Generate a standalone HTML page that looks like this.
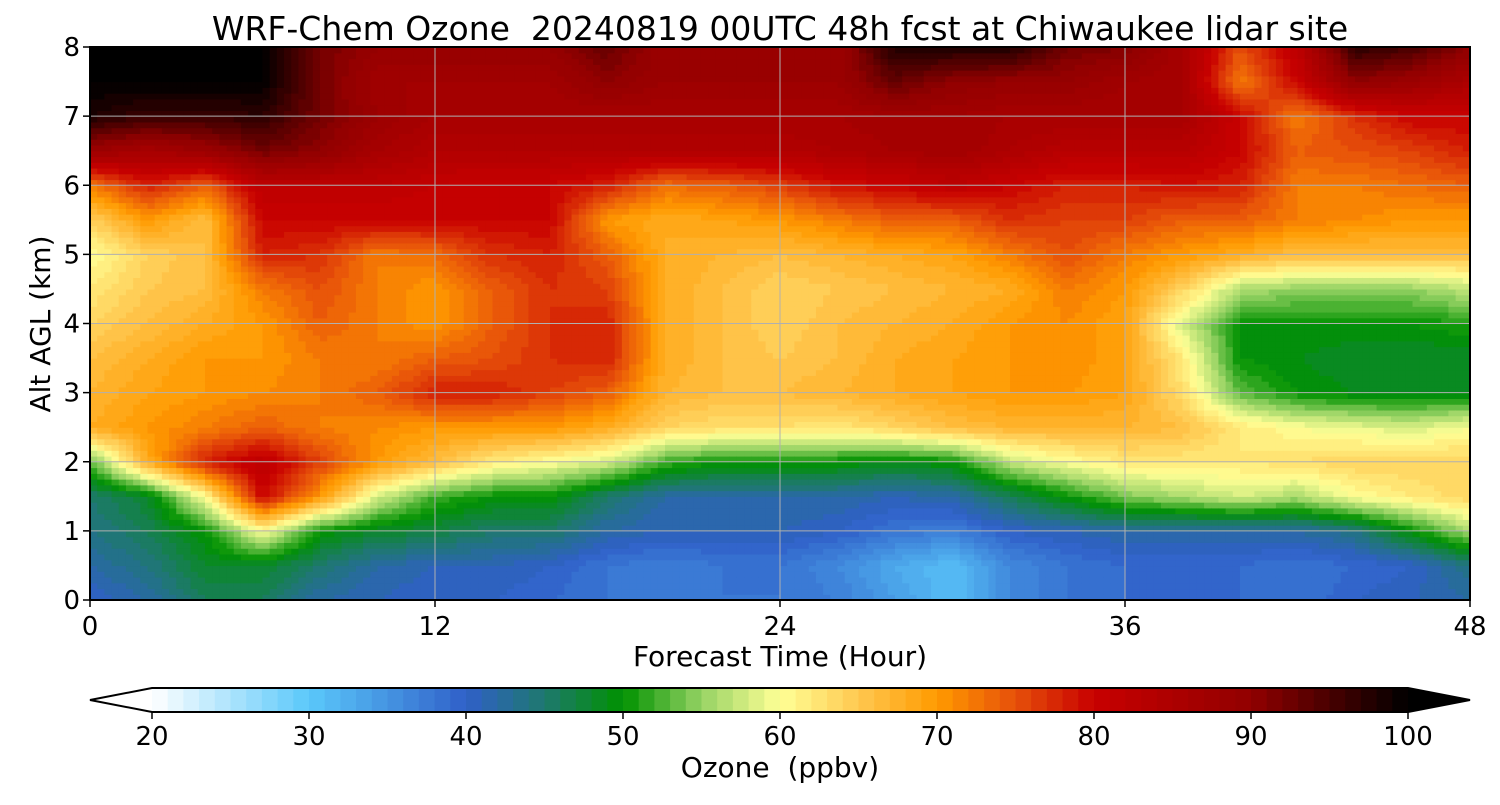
<!DOCTYPE html>
<html><head><meta charset="utf-8">
<style>
body{margin:0;background:#fff;}
svg text{font-family:"DejaVu Sans","Liberation Sans",sans-serif;fill:#000;white-space:pre;}
</style></head>
<body>
<svg id="chart" width="1500" height="800" xmlns="http://www.w3.org/2000/svg">
<text x="780" y="40" font-size="33" text-anchor="middle" xml:space="preserve">WRF-Chem Ozone  20240819 00UTC 48h fcst at Chiwaukee lidar site</text>
<g id="plot"></g>
<g id="grid"></g>
<rect x="90" y="47" width="1380" height="553" fill="none" stroke="#000" stroke-width="2"/>
<g id="axes"></g>
<text transform="translate(50,324) rotate(-90)" font-size="28" text-anchor="middle">Alt AGL (km)</text>
<text x="780" y="666" font-size="28" text-anchor="middle">Forecast Time (Hour)</text>
<g id="cbar"></g>
<text x="780" y="777" font-size="28" text-anchor="middle" xml:space="preserve">Ozone  (ppbv)</text>
</svg>
<script>
const hours=[0,2,4,6,8,10,12,14,16,18,20,22,24,26,28,30,32,34,36,38,40,42,44,46,48];
const alts=[0,0.5,1,1.5,2,2.5,3,3.5,4,4.5,5,5.5,6,6.5,7,7.5,8];
const z0  =[40,42,46,46,42,41,40,40,39,38,37,38,38,37,34,31,36,38,39,39,39,38,40,41,42];
const z05 =[42,44,48,48,45,42,41,41,40,38,37,38,38,36,33,31,36,38,39,39,39,38,39,40,44];
const z10 =[44,46,50,60,50,48,47,45,45,42,41,41,41,40,38,37,40,41,42,42,42,42,44,50,56];
const z15 =[45,48,60,80,70,58,52,50,50,45,42,42,42,42,41,42,46,50,54,56,58,56,60,62,64];
const z20 =[53,68,78,82,76,70,66,62,60,58,52,50,50,50,49,50,57,60,62,62,62,63,64,64,64];
const z25 =[68,70,72,74,72,71,70,70,70,68,64,63,63,62,64,66,67,67,67,66,62,60,59,58,60];
const z30 =[67,69,70,71,72,74,78,78,76,74,67,66,66,67,68,69,70,70,69,63,53,50,49,49,49];
const z35 =[66,68,70,70,72,72,74,75,77,78,68,66,65,66,68,69,70,71,69,62,50,49,48,48,48];
const z40 =[64,66,68,70,74,72,70,74,77,78,68,66,64,66,67,68,70,71,69,58,50,50,50,50,51];
const z45 =[62,65,66,72,75,72,70,74,77,76,68,66,64,65,66,67,68,72,70,64,56,55,55,55,57];
const z50 =[60,64,66,78,77,72,73,77,78,74,68,67,66,67,68,69,72,75,72,70,68,66,66,66,66];
const z55 =[64,70,66,80,80,80,80,80,80,70,68,69,70,72,74,74,77,76,76,74,74,72,71,70,70];
const z60 =[72,78,74,82,82,82,81,80,80,78,73,74,76,79,80,82,80,78,78,79,78,72,72,73,74];
const z65 =[88,86,88,92,90,86,84,84,84,84,84,84,84,85,86,87,85,83,83,83,80,74,75,76,78];
const z70 =[98,96,96,97,92,88,86,86,86,86,86,86,86,86,87,87,86,86,86,86,80,72,77,80,80];
const z75 =[100,100,100,100,92,87,87,87,87,90,88,88,88,88,93,90,89,89,87,86,72,80,90,88,85];
const z80 =[100,100,100,100,92,89,89,89,89,93,88,88,88,88,98,98,98,92,91,86,75,82,97,95,90];
const Z=[z0,z05,z10,z15,z20,z25,z30,z35,z40,z45,z50,z55,z60,z65,z70,z75,z80];
const cbTicks=[20,30,40,50,60,70,80,90,100];
const xTicks=[0,12,24,36,48];
const yTicks=[0,1,2,3,4,5,6,7,8];

const X0=90,X1=1470,Y0=600,Y1=47;
const xs=h=>X0+(h-0)/(48-0)*(X1-X0);
const ys=a=>Y0+(a-0)/(8-0)*(Y1-Y0);
const stops=[[20,[255,255,255]],[30,[90,200,250]],[40,[48,96,200]],[45,[30,120,110]],[50,[0,146,0]],[55,[150,210,100]],[60,[255,255,150]],[65,[255,200,80]],[70,[255,154,0]],[75,[230,80,10]],[80,[200,0,0]],[90,[145,0,0]],[100,[0,0,0]]];
function col(v){
  v=Math.max(20,Math.min(100,Math.floor(v)+0.5));
  for(let i=0;i<stops.length-1;i++){const[a,ca]=stops[i],[b,cb]=stops[i+1];
    if(v<=b){const t=(v-a)/(b-a);return 'rgb('+ca.map((c,k)=>Math.round(c+(cb[k]-c)*t)).join(',')+')';}}
  return 'rgb(0,0,0)';
}
function val(h,a){
  let i=Math.min(hours.length-2,Math.max(0,Math.floor(h/2))), j=Math.min(alts.length-2,Math.max(0,Math.floor(a/0.5)));
  const tx=(h-hours[i])/(hours[i+1]-hours[i]), ty=(a-alts[j])/(alts[j+1]-alts[j]);
  return (Z[j][i]*(1-tx)+Z[j][i+1]*tx)*(1-ty)+(Z[j+1][i]*(1-tx)+Z[j+1][i+1]*tx)*ty;
}
const NS='http://www.w3.org/2000/svg';
function mk(tag,attrs,parent){const e=document.createElementNS(NS,tag);for(const k in attrs)e.setAttribute(k,attrs[k]);parent.appendChild(e);return e;}
const plot=document.getElementById('plot');
const NX=192,NY=96;
for(let ix=0;ix<NX;ix++){for(let iy=0;iy<NY;iy++){
  const h=(ix+0.5)*48/NX,a=(iy+0.5)*8/NY;
  const r=mk('rect',{x:xs(ix*48/NX),y:ys((iy+1)*8/NY),width:(X1-X0)/NX+0.6,height:(Y0-Y1)/NY+0.6,fill:col(val(h,a))},plot);
  
  
}}
const grid=document.getElementById('grid'),axes=document.getElementById('axes');
xTicks.forEach(t=>{
  const l=mk('line',{x1:xs(t),x2:xs(t),y1:Y1,y2:Y0,stroke:'#b0b0b0','stroke-width':1},grid);
  
  const tk=mk('line',{x1:xs(t),x2:xs(t),y1:Y0,y2:Y0+7,stroke:'#000','stroke-width':1.5},axes);
  
  const tx=mk('text',{x:xs(t),y:Y0+35,'font-size':26,'text-anchor':'middle'},axes);tx.textContent=t;
  
});
yTicks.forEach(t=>{
  const l=mk('line',{x1:X0,x2:X1,y1:ys(t),y2:ys(t),stroke:'#b0b0b0','stroke-width':1},grid);
  
  const tk=mk('line',{x1:X0-7,x2:X0,y1:ys(t),y2:ys(t),stroke:'#000','stroke-width':1.5},axes);
  
  const tx=mk('text',{x:X0-10,y:ys(t)+9,'font-size':26,'text-anchor':'end'},axes);tx.textContent=t;
  
});
const cb=document.getElementById('cbar');
const CX0=152,CX1=1408,CY0=688,CY1=712;
const cx=v=>CX0+(v-20)/80*(CX1-CX0);
const lt=mk('polygon',{points:`${CX0},${CY0} 90,${(CY0+CY1)/2} ${CX0},${CY1}`,fill:'#fff'},cb);

for(let v=20;v<100;v++){
  const r=mk('rect',{x:cx(v),y:CY0,width:(CX1-CX0)/80+0.6,height:CY1-CY0,fill:col(v)},cb);
  
}
const rt=mk('polygon',{points:`${CX1},${CY0} 1470,${(CY0+CY1)/2} ${CX1},${CY1}`,fill:'#000'},cb);

const ol=mk('polygon',{points:`${CX0},${CY0} ${CX1},${CY0} 1470,${(CY0+CY1)/2} ${CX1},${CY1} ${CX0},${CY1} 90,${(CY0+CY1)/2}`,fill:'none',stroke:'#000','stroke-width':2},cb);

cbTicks.forEach(t=>{
  const tk=mk('line',{x1:cx(t),x2:cx(t),y1:CY1,y2:CY1+7,stroke:'#000','stroke-width':1.5},cb);
  
  const tx=mk('text',{x:cx(t),y:CY1+33,'font-size':26,'text-anchor':'middle'},cb);tx.textContent=t;
  
});
</script>
</body></html>
